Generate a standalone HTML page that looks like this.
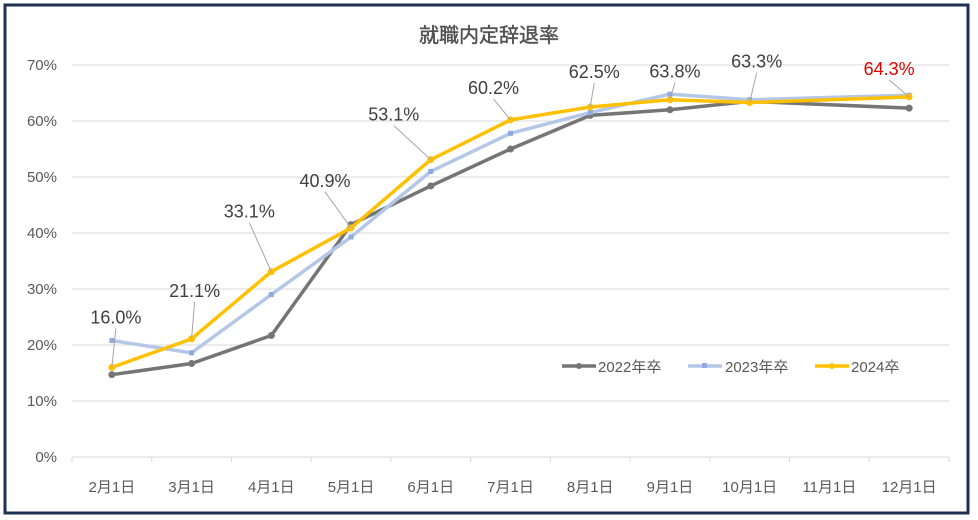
<!DOCTYPE html>
<html><head><meta charset="utf-8"><style>
html,body{margin:0;padding:0;background:#fff;}
svg{display:block;font-family:"Liberation Sans","Noto Sans CJK JP",sans-serif;}
</style></head><body>
<svg id="chart" width="978" height="520" xmlns="http://www.w3.org/2000/svg">
<rect x="5" y="5" width="963" height="508" fill="#fff" stroke="#1f3150" stroke-width="3"/>
<text x="489" y="42" text-anchor="middle" font-size="20" fill="#505050" stroke="#505050" stroke-width="0.4">就職内定辞退率</text>
<g id="grid"></g><g id="axes"></g><g id="series"></g><g id="labels"></g>
<g font-size="15" fill="#595959">
 <g><line x1="562" y1="366" x2="596" y2="366" stroke="#757575" stroke-width="3.5"/><circle cx="579" cy="366" r="3" fill="#757575"/><text x="598" y="372">2022年卒</text></g>
 <g><line x1="688" y1="366" x2="722" y2="366" stroke="#b4c7e7" stroke-width="3.5"/><rect x="702" y="363" width="5" height="5" fill="#8faadc"/><text x="725" y="372">2023年卒</text></g>
 <g><line x1="815" y1="366" x2="849" y2="366" stroke="#ffc000" stroke-width="3.5"/><circle cx="832" cy="366" r="3" fill="#ffc000"/><text x="851" y="372">2024卒</text></g>
</g>
</svg>
<script>
const categories=["2月1日","3月1日","4月1日","5月1日","6月1日","7月1日","8月1日","9月1日","10月1日","11月1日","12月1日"];
const s2022=[14.7,16.7,21.7,41.5,48.4,55.0,61.0,62.0,63.5,null,62.3];
const s2023=[20.8,18.6,29.0,39.3,51.0,57.8,61.5,64.8,63.8,null,64.6];
const s2024=[16.0,21.1,33.1,40.9,53.1,60.2,62.5,63.8,63.3,null,64.3];
const yTicks=[0,10,20,30,40,50,60,70];
const labelOffsets=[[4,-44],[3,-42],[-22,-54],[-26,-41],[-37,-39],[-17,-26],[4,-29],[5,-22],[7,-35],null,[-20,-22]];
const NS="http://www.w3.org/2000/svg";
const L=72,R=949,T=65,B=457;
const step=(R-L)/categories.length;
const x=i=>L+step*(i+0.5);
const y=v=>B-(v/70)*(B-T);
function mk(tag,attrs,parent){const e=document.createElementNS(NS,tag);for(const k in attrs)e.setAttribute(k,attrs[k]);parent.appendChild(e);return e;}
const grid=document.getElementById('grid'),axes=document.getElementById('axes'),ser=document.getElementById('series'),lab=document.getElementById('labels');
yTicks.forEach(t=>{
 if(t>0){const g=mk('line',{x1:L,x2:R,y1:y(t),y2:y(t),stroke:'#d9d9d9','stroke-width':1},grid);
 
 }
 const tx=mk('text',{x:57,y:y(t)+5,'text-anchor':'end','font-size':15,fill:'#595959'},axes);tx.textContent=t+'%';
 
 
});
const ax=mk('line',{x1:L,x2:R,y1:B,y2:B,stroke:'#d9d9d9','stroke-width':1},axes);


for(let i=0;i<=categories.length;i++){const tk=mk('line',{x1:L+step*i,x2:L+step*i,y1:B,y2:B+5,stroke:'#d9d9d9'},axes);
 
 }
categories.forEach((c,i)=>{const t=mk('text',{x:x(i),y:492,'text-anchor':'middle','font-size':15,fill:'#595959'},axes);t.textContent=c;
 
 });
function drawSeries(data,color,name,marker){
 const pts=[];data.forEach((v,i)=>{if(v!==null)pts.push([x(i),y(v)]);});
 const p=mk('polyline',{points:pts.map(p=>p.join(',')).join(' '),fill:'none',stroke:color,'stroke-width':3.5,'stroke-linejoin':'round'},ser);
 
 
 pts.forEach(q=>{let m;
  if(marker==='sq'){m=mk('rect',{x:q[0]-2.5,y:q[1]-2.5,width:5,height:5,fill:'#8faadc'},ser);}
  else m=mk('circle',{cx:q[0],cy:q[1],r:3.5,fill:color},ser);
  
  });
}
drawSeries(s2022,'#757575','2022','c');
drawSeries(s2023,'#b4c7e7','2023','sq');
drawSeries(s2024,'#ffc000','2024','c');
s2024.forEach((v,i)=>{if(v===null)return;const o=labelOffsets[i];
 const px=x(i),py=y(v),lx=px+o[0],ly=py+o[1];
 const ln=mk('line',{x1:px,y1:py,x2:lx,y2:ly+5,stroke:'#a6a6a6','stroke-width':1},lab);
 
 
 const t=mk('text',{x:lx,y:ly,'text-anchor':'middle','font-size':18,fill:i===10?'#e00000':'#404040'},lab);
 t.textContent=v.toFixed(1)+'%';
 
 });
</script>
</body></html>
